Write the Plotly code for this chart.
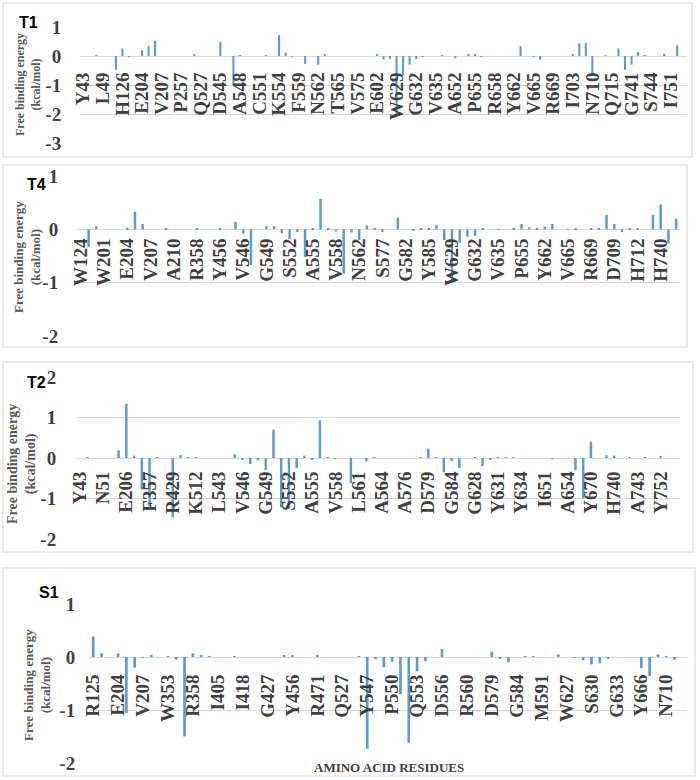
import plotly.graph_objects as go

# ---------------- data ----------------
t1_labels = ["Y43", "L49", "H126", "E204", "V207", "P257", "Q527", "D545", "A548", "C551",
             "K554", "F559", "N562", "T565", "V575", "E602", "W629", "G632", "V635", "A652",
             "P655", "R658", "Y662", "V665", "R669", "I703", "N710", "Q715", "G741", "S744", "I751"]
t1_values = [0, 0, 0.02, 0, 0, -0.48, 0.26, -0.03, 0, 0.2,
             0.34, 0.52, 0, 0, 0, 0, 0, 0.06, 0, 0,
             0, 0.49, 0, -1.0, 0.02, 0, 0, 0, 0.01, 0,
             0.72, 0.12, -0.02, 0, -0.28, 0, -0.3, 0.05, 0, 0,
             0, 0, 0, 0, 0, 0.05, -0.12, -0.1, -2.07, -0.68,
             -0.3, -0.1, -0.03, 0, 0, 0.01, 0, -0.08, 0, 0.05,
             0.08, -0.01, 0, 0, 0, 0, 0, 0.34, 0, -0.01,
             -0.13, 0, 0, 0, 0, 0.05, 0.44, 0.46, -0.65, 0,
             0.02, 0, 0.26, -0.48, -0.3, 0.14, 0.03, 0, 0, 0.08,
             0, 0.37, 0]

t4_labels = ["W124", "W201", "E204", "V207", "A210", "R358", "Y456", "V546", "G549", "S552",
             "A555", "V558", "N562", "S577", "G582", "Y585", "W629", "G632", "V635", "P655",
             "Y662", "V665", "R669", "D709", "H712", "H740"]
t4_values = [0, -0.33, 0.06, 0, 0, 0, 0.03, 0.33, 0.1, 0,
             0, 0.01, 0, 0, 0, 0.01, 0, 0, 0.01, 0,
             0.14, -0.08, -0.67, 0, 0.06, 0.06, -0.07, -0.18, -0.05, -0.52,
             0.02, 0.57, 0.01, -0.04, -0.83, -0.06, -0.2, 0.07, 0.02, -0.05,
             0, 0.22, 0, -0.03, 0.02, 0.03, 0.08, -0.2, -0.98, -0.25,
             -0.14, -0.12, 0.01, 0, -0.01, 0, 0.02, 0.1, 0.04, 0.03,
             0.05, 0.1, 0, -0.01, 0.01, 0, 0.01, 0.02, 0.27, 0.1,
             -0.05, 0.02, 0.01, 0, 0.27, 0.47, -0.26, 0.2]

t2_labels = ["Y43", "N51", "E206", "F357", "R429", "K512", "L543", "V546", "G549", "S552",
             "A555", "V558", "L561", "A564", "A576", "D579", "G584", "G628", "Y631", "Y634",
             "I651", "A654", "Y670", "H740", "A743", "Y752"]
t2_values = [0, 0.01, 0, 0, 0, 0.19, 1.34, 0.06, -0.78, -1.2,
             0.01, 0, -1.47, 0.07, 0.01, 0.01, 0, 0, 0, 0,
             0.09, -0.04, -0.15, -0.06, -0.3, 0.7, -1.22, -1.25, -0.25, 0.06,
             -0.05, 0.93, 0.01, -0.01, 0, -0.62, 0, -0.08, 0.01, 0,
             0, 0, 0, 0, 0.01, 0.23, 0.01, -0.35, -0.07, -0.25,
             0, 0.02, -0.2, -0.03, 0.01, 0.01, 0.01, 0, 0, 0,
             0, -0.01, 0, 0, -0.3, -1.0, 0.4, 0, 0.07, 0.06,
             0, 0.02, 0, 0.01, 0, 0.04, 0, 0]

s1_labels = ["R125", "E204", "V207", "W353", "R358", "I405", "I418", "G427", "Y456", "R471",
             "Q527", "Y547", "P550", "Q553", "D556", "R560", "D579", "G584", "M591", "W627",
             "S630", "G633", "Y666", "N710"]
s1_values = [0.39, 0.07, 0, 0.07, -1.06, -0.2, -0.01, 0.02, 0, 0.01,
             -0.05, -1.5, 0.07, 0.02, 0.01, 0, 0, 0.01, 0, 0,
             0, 0, 0, 0.02, 0.02, 0, 0, 0.03, 0, 0,
             0, 0, 0.01, -1.73, -0.03, -0.19, -0.09, -0.7, -1.62, -0.27,
             -0.08, 0, 0.15, 0, 0, 0, 0, 0, 0.1, -0.02,
             -0.1, 0, 0.01, 0.01, 0, 0, 0.05, 0, -0.01, -0.06,
             -0.14, -0.12, -0.03, 0, 0, 0, -0.21, -0.36, 0.05, 0.01,
             -0.05, 0]

panel_names = ["T1", "T4", "T2", "S1"]
y_title = "Free binding energy<br>(kcal/mol)"
x_title = "AMINO ACID RESIDUES"

# ---------------- layout geometry (pixels) ----------------
W, H = 700, 780
BAR = "#5B9BD5"
GRID = "#D9D9D9"
TXT = "#404040"
SERIF = "Liberation Serif"


def px(x):
    return x / W


def py(y):
    return 1 - y / H


panels = [
    dict(name=panel_names[0], labels=t1_labels, values=t1_values, step=3,
         box=(3, 3, 692, 157), px0=80, px1=687, ytop=27, ybot=143, yr=(-3, 1), zero=56,
         tlen=14, xlen=8, title_xy=(28, 85), title_size=12, lab_xy=(28, 22)),
    dict(name=panel_names[1], labels=t4_labels, values=t4_values, step=3,
         box=(3, 165, 687, 347), px0=77, px1=680, ytop=176, ybot=336, yr=(-2, 1), zero=229,
         tlen=14, xlen=1, title_xy=(27, 257), title_size=13, lab_xy=(36, 184)),
    dict(name=panel_names[2], labels=t2_labels, values=t2_values, step=3,
         box=(3, 362, 693, 552), px0=76, px1=680, ytop=377, ybot=539, yr=(-2, 2), zero=458,
         tlen=15, xlen=5, title_xy=(22, 464), title_size=14, lab_xy=(36, 382)),
    dict(name=panel_names[3], labels=s1_labels, values=s1_values, step=3,
         box=(3, 568, 695, 776), px0=89, px1=687, ytop=604, ybot=763, yr=(-2, 1), zero=657,
         tlen=9, xlen=9, title_xy=(37, 685), title_size=13, lab_xy=(49, 592)),
]

fig = go.Figure()
layout = dict(width=W, height=H, autosize=False, margin=dict(l=0, r=0, t=0, b=0, pad=0),
              paper_bgcolor="white", plot_bgcolor="white", showlegend=False,
              bargap=0.68, shapes=[], annotations=[])

for i, p in enumerate(panels, start=1):
    n = len(p["values"])
    xs = list(range(n))
    sfx = "" if i == 1 else str(i)
    fig.add_trace(go.Bar(x=xs, y=p["values"], marker_color=BAR, marker_line_width=0,
                         xaxis="x" + sfx, yaxis="y" + sfx, width=0.32))
    tickvals = [k * p["step"] for k in range(len(p["labels"]))]
    layout["xaxis" + sfx] = dict(
        domain=[px(p["px0"]), px(p["px1"])], anchor="free", position=py(p["zero"]),
        range=[-0.5, n - 0.5], tickmode="array", tickvals=tickvals, ticktext=p["labels"],
        tickangle=-90, showgrid=False, zeroline=False, showline=False, automargin=False,
        ticks="outside", ticklen=p["xlen"], tickcolor="rgba(0,0,0,0)",
        tickfont=dict(family=SERIF, size=19, color=TXT, weight="bold"))
    ylo, yhi = p["yr"]
    yt = list(range(ylo, yhi + 1))
    layout["yaxis" + sfx] = dict(
        domain=[py(p["ybot"]), py(p["ytop"])], anchor="x" + sfx, range=[ylo, yhi],
        tickmode="array", tickvals=yt, ticktext=[str(v) for v in yt], automargin=False,
        showgrid=True, gridcolor=GRID, gridwidth=1, zeroline=True, zerolinecolor=GRID,
        zerolinewidth=1, showline=False, ticks="outside", ticklen=p["tlen"],
        tickcolor="rgba(0,0,0,0)",
        tickfont=dict(family=SERIF, size=19, color=TXT, weight="bold"))
    bx0, by0, bx1, by1 = p["box"]
    layout["shapes"].append(dict(type="rect", xref="paper", yref="paper",
                                 x0=px(bx0), x1=px(bx1), y0=py(by1), y1=py(by0),
                                 line=dict(color=GRID, width=1.2), fillcolor="rgba(0,0,0,0)",
                                 layer="below"))
    layout["annotations"].append(dict(
        text=p["name"], x=px(p["lab_xy"][0]), y=py(p["lab_xy"][1]), xref="paper", yref="paper",
        showarrow=False, xanchor="center", yanchor="middle",
        font=dict(family="Liberation Sans", size=16, color="black", weight="bold")))
    layout["annotations"].append(dict(
        text=y_title, x=px(p["title_xy"][0]), y=py(p["title_xy"][1]), xref="paper", yref="paper",
        showarrow=False, xanchor="center", yanchor="middle", textangle=-90,
        font=dict(family=SERIF, size=p["title_size"], color="#595959", weight="bold")))

layout["annotations"].append(dict(
    text=x_title, x=px(389), y=py(767), xref="paper", yref="paper", showarrow=False,
    xanchor="center", yanchor="middle",
    font=dict(family=SERIF, size=13, color=TXT, weight="bold")))

fig.update_layout(**layout)
fig.write_html("out.html", config={"displayModeBar": False},
               post_script="document.body.style.margin='0px';document.body.style.overflow='hidden';")
